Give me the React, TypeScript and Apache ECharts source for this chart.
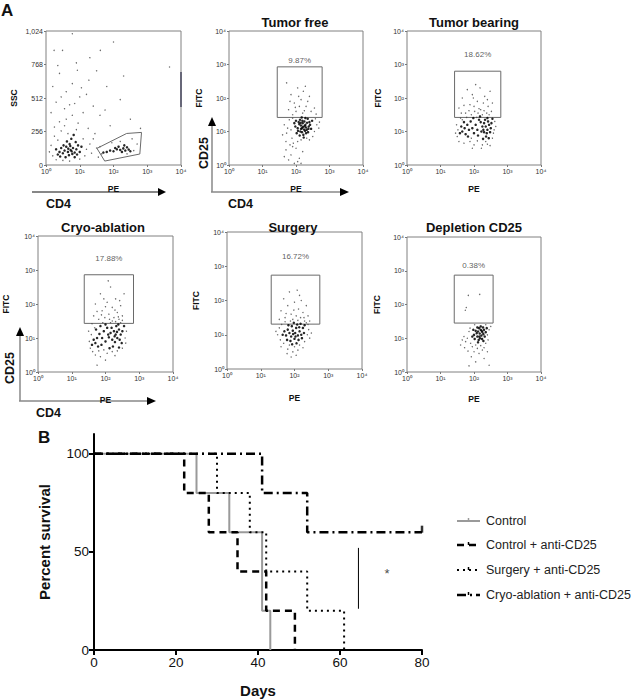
import React, { useEffect, useRef } from "react";
import * as echarts from "echarts";

const FONT = '"Liberation Sans", Arial, sans-serif';
const SUP = ["⁰", "¹", "²", "³", "⁴"];

// ---------- Panel A data (x = log10 PE, y = log10 FITC or linear SSC) ----------
const gateCD4Core = [[0.73,114],[0.65,100],[0.8,130],[0.6,140],[0.85,95],[0.7,160],[0.55,110],[0.78,85],[0.9,120],[0.5,90],[0.68,75],[0.62,180],[0.95,150],[0.45,130],[0.75,200],[0.58,60],[0.88,175],[0.4,100],[1.0,100],[0.82,230],[0.35,80],[0.66,125],[0.72,145],[0.76,105],[0.52,150],[0.92,80],[0.42,65],[1.05,140],[0.3,120],[0.85,60],[2.29,127],[2.2,115],[2.35,110],[2.1,120],[2.4,135],[2.0,105],[2.25,100],[1.9,110],[2.45,118],[2.15,140],[1.8,100],[2.32,150],[2.5,105],[1.7,95],[2.05,130]];
const gateCD4Spread = [[0.2,70],[0.15,150],[0.25,220],[0.3,40],[0.45,260],[0.55,300],[0.65,240],[0.9,270],[1.1,200],[1.2,120],[1.15,70],[1.3,160],[0.35,190],[0.5,35],[1.0,45],[0.1,100],[1.35,90],[1.4,200],[0.95,320],[0.6,350],[0.78,380],[0.4,330],[1.25,280],[0.25,290],[1.5,130],[1.55,60],[1.45,240],[0.7,30],[1.6,140],[1.65,85],[2.6,110],[2.7,160],[2.55,200],[2.2,180],[1.95,170],[2.4,85],[0.78,1003],[2.0,940],[0.24,876],[0.49,876],[1.61,876],[0.93,724],[3.66,749],[1.27,648],[0.78,622],[0.4,700],[0.6,560],[1.0,520],[1.4,450],[0.3,480],[1.8,600],[0.55,430],[1.1,400],[2.2,500],[1.6,380],[0.2,600],[0.9,780],[1.3,820],[2.5,350],[0.45,520],[1.9,300],[1.05,590],[0.7,460],[2.8,280],[0.15,400],[1.75,420],[0.35,760],[2.3,680],[1.5,720],[1.2,540],[0.85,470]];
const gateCD4Polygon = [[1.51,127],[1.74,30],[2.78,84],[2.83,249],[2.39,241],[1.51,127]];

const tumorFreeCore = [[2.21,1.14],[2.15,1.08],[2.28,1.2],[2.1,1.22],[2.32,1.05],[2.18,0.98],[2.25,1.3],[2.05,1.1],[2.38,1.15],[2.12,1.35],[2.3,0.95],[2.2,1.25],[2.02,0.95],[2.4,1.28],[2.27,1.02],[2.15,1.18],[2.35,1.38],[2.08,1.28],[2.22,0.9],[2.45,1.08],[1.98,1.15],[2.17,1.42],[2.3,1.12],[2.24,1.06],[2.13,1.0],[2.36,0.98],[2.19,1.32],[2.42,1.2],[2.06,1.02],[2.28,1.4],[1.95,1.25],[2.33,1.26],[2.11,0.88],[2.26,1.16],[2.18,1.1],[2.48,1.32],[2.0,1.32],[2.23,0.82],[2.37,1.08],[2.14,1.26]];
const tumorFreeSpread = [[1.72,2.45],[1.85,2.1],[2.05,2.3],[2.22,2.2],[2.4,2.05],[1.95,1.85],[2.15,1.95],[2.3,1.75],[1.78,1.65],[2.0,1.6],[2.2,1.55],[2.45,1.6],[2.1,1.75],[1.9,1.5],[2.35,1.9],[2.55,1.7],[2.08,2.05],[1.82,1.9],[2.28,2.35],[2.6,1.52],[2.25,1.62],[1.98,1.72],[1.65,1.2],[1.72,0.95],[1.8,1.35],[1.88,0.8],[1.75,1.1],[1.7,0.7],[1.92,0.65],[2.55,1.0],[2.62,1.2],[2.5,0.85],[2.68,1.1],[2.05,0.7],[2.4,0.75],[1.85,1.05],[1.6,0.9],[2.58,1.38],[2.7,1.28],[1.9,1.4],[2.15,0.75],[2.32,0.8],[1.7,0.45],[1.85,0.3],[2.0,0.5],[2.1,0.2],[1.78,0.15],[1.95,0.05],[2.2,0.4],[1.9,0.55],[1.65,0.25],[2.05,0.1],[1.82,0.6],[2.15,0.05]];

const tumorBearingCore = [[2.35,1.15],[2.4,1.05],[2.3,1.25],[2.45,1.2],[2.38,0.95],[2.28,1.05],[2.5,1.1],[2.33,1.35],[2.42,1.3],[2.25,1.15],[2.36,0.85],[2.48,0.98],[2.2,1.28],[2.4,1.4],[2.3,0.98],[2.52,1.25],[2.22,1.0],[1.72,1.1],[1.65,1.0],[1.8,1.2],[1.75,0.92],[1.85,1.05],[1.62,1.15],[1.9,1.3],[1.7,1.28],[1.95,1.1],[2.05,1.2],[2.1,1.05],[2.0,0.95],[2.15,1.35],[2.12,0.88],[1.82,0.85],[2.44,0.8],[2.27,0.78],[1.58,0.95],[2.55,1.38],[2.18,1.45],[1.98,1.4]];
const tumorBearingSpread = [[1.5,0.85],[1.48,1.2],[1.55,0.7],[1.6,1.4],[1.7,0.65],[1.88,0.7],[2.0,0.6],[2.1,0.72],[2.25,0.6],[2.4,0.62],[2.55,0.8],[2.6,1.05],[2.62,1.3],[2.58,0.95],[1.52,1.05],[1.65,1.35],[1.92,0.8],[2.08,1.42],[2.35,0.7],[2.48,0.58],[1.78,1.42],[2.65,1.15],[1.45,0.95],[2.22,0.5],[1.95,0.5],[1.55,1.7],[1.65,2.0],[1.75,1.55],[1.8,2.25],[1.88,1.8],[1.95,2.1],[2.02,1.6],[2.1,1.9],[2.18,2.3],[2.2,1.65],[2.28,1.85],[2.32,2.05],[2.38,1.55],[2.42,1.75],[2.48,2.2],[2.52,1.6],[1.62,1.55],[1.7,1.78],[1.92,1.5],[2.05,2.4],[2.12,1.55],[2.25,1.5],[2.4,1.95],[2.55,1.85],[1.85,1.62],[2.0,1.75],[2.15,1.68],[2.3,1.62],[1.98,2.0],[2.45,1.5]];

const cryoCore = [[2.3,1.1],[2.25,1.2],[2.35,1.0],[2.4,1.25],[2.2,0.95],[2.32,1.35],[2.45,1.1],[2.28,0.88],[2.15,1.15],[2.38,1.4],[2.42,0.95],[2.18,1.3],[2.5,1.2],[2.1,1.02],[2.27,1.05],[2.34,1.18],[1.75,1.0],[1.7,0.85],[1.82,1.12],[1.65,0.95],[1.9,1.0],[1.78,0.75],[1.95,1.2],[2.0,0.9],[2.05,1.3],[1.88,0.8],[1.6,0.8],[2.08,1.1],[1.85,1.35],[2.22,0.75],[2.48,0.85],[2.0,1.4],[1.72,1.25],[2.55,1.35],[2.12,0.7],[2.4,0.72]];
const cryoSpread = [[1.52,0.9],[1.55,0.7],[1.58,1.1],[1.62,0.6],[1.68,1.3],[1.8,0.62],[1.95,0.65],[2.05,0.55],[2.2,0.6],[2.35,0.62],[2.5,0.7],[2.58,1.0],[2.62,1.2],[2.6,0.85],[1.5,1.2],[1.92,1.45],[2.15,1.45],[2.3,1.48],[2.45,1.45],[1.7,0.5],[1.85,0.45],[2.0,0.35],[1.75,0.2],[2.28,0.48],[1.6,1.42],[1.65,1.65],[1.7,2.0],[1.8,1.55],[1.85,2.3],[1.9,1.8],[1.98,1.6],[2.05,2.05],[2.1,1.7],[2.15,2.5],[2.2,1.9],[2.25,1.6],[2.3,2.15],[2.35,1.75],[2.4,1.55],[2.45,1.95],[2.5,1.65],[2.55,2.3],[2.2,1.5],[1.75,1.78],[2.0,1.92],[2.38,1.62],[2.12,1.55],[1.95,2.15],[2.28,1.82],[2.42,2.1],[2.08,2.68],[1.88,1.68],[2.5,1.52]];

const surgeryCore = [[2.02,1.05],[1.95,1.12],[2.1,0.98],[2.05,1.2],[1.9,0.95],[2.15,1.1],[1.85,1.05],[2.0,0.88],[2.08,1.3],[1.92,1.25],[2.2,1.0],[1.8,1.15],[2.12,0.85],[1.98,1.35],[2.25,1.2],[1.75,0.98],[2.18,1.32],[1.88,0.82],[2.03,0.95],[2.28,1.05],[1.7,1.1],[1.96,1.02],[2.14,1.22],[1.82,1.28],[2.06,0.75],[2.22,0.9],[1.78,0.85],[2.3,1.28],[1.65,1.0],[1.93,0.72]];
const surgerySpread = [[1.5,1.0],[1.55,1.2],[1.58,0.85],[1.62,1.3],[1.68,0.75],[1.72,1.38],[1.85,0.7],[2.0,0.65],[2.15,0.7],[2.3,0.8],[2.38,1.0],[2.42,1.15],[2.45,0.9],[2.35,1.35],[1.45,1.1],[1.6,0.65],[2.25,0.62],[1.8,0.58],[2.1,0.55],[1.95,0.5],[2.05,0.4],[1.78,0.45],[2.4,1.3],[2.5,1.05],[1.9,0.35],[1.55,1.45],[1.6,1.7],[1.68,2.05],[1.72,1.5],[1.8,1.85],[1.85,2.25],[1.9,1.6],[1.95,1.45],[2.0,1.95],[2.05,1.55],[2.08,2.3],[2.12,1.75],[2.18,1.5],[2.2,2.0],[2.25,1.65],[2.3,1.4],[2.35,1.85],[2.4,1.55],[1.98,1.72],[2.1,1.42],[1.75,1.62],[2.15,2.15],[2.28,1.5],[1.88,1.4],[2.45,1.4]];

const depletionCore = [[2.17,1.14],[2.12,1.2],[2.22,1.08],[2.2,1.25],[2.1,1.05],[2.25,1.18],[2.15,1.3],[2.28,1.12],[2.08,1.15],[2.18,1.0],[2.3,1.25],[2.05,1.22],[2.24,0.98],[2.14,0.95],[2.32,1.05],[2.0,1.1],[2.2,1.35],[2.1,1.32],[2.27,1.32],[2.35,1.18],[2.02,0.98],[2.16,1.05],[2.23,1.22],[1.95,1.05],[2.38,1.3],[2.12,0.88],[2.28,0.92],[1.98,1.25]];
const depletionSpread = [[1.8,1.0],[1.75,0.9],[1.85,1.2],[1.7,1.05],[1.9,0.85],[1.88,1.3],[1.95,0.75],[2.05,0.8],[2.4,1.1],[2.45,1.25],[2.42,0.95],[2.5,1.35],[2.35,0.85],[2.2,0.78],[2.3,0.72],[2.1,0.7],[1.65,0.95],[1.6,0.8],[1.72,0.72],[1.82,0.62],[2.0,0.6],[2.15,0.55],[2.25,0.65],[2.4,0.6],[1.92,0.45],[2.05,0.3],[2.3,0.4],[2.45,0.2],[1.85,0.18],[2.02,1.4],[2.35,1.4],[1.83,2.27],[2.17,2.3],[1.77,1.91],[1.74,1.83]];

const panelTitles = ["Tumor free", "Tumor bearing", "Cryo-ablation", "Surgery", "Depletion CD25"];
const gatePercents = ["9.87%", "18.62%", "17.88%", "16.72%", "0.38%"];
const gateBoxes = [
  [1.44, 1.42, 2.78, 2.93],
  [1.42, 1.42, 2.8, 2.8],
  [1.37, 1.43, 2.83, 2.86],
  [1.31, 1.31, 2.75, 2.74],
  [1.41, 1.45, 2.57, 2.87],
];
const percentPos = [[2.11, 3.13], [2.11, 3.3], [2.1, 3.34], [2.03, 3.28], [1.99, 3.16]];

// ---------- Panel B data ----------
const survivalTicks = [0, 50, 100];
const seriesNames = ["Control", "Control + anti-CD25", "Surgery + anti-CD25", "Cryo-ablation + anti-CD25"];
const controlSurv = [[0, 100], [25, 80], [33, 60], [41, 20], [43, 0]];
const controlAntiSurv = [[0, 100], [22, 80], [28, 60], [35, 40], [42, 20], [49, 0]];
const surgeryAntiSurv = [[0, 100], [30, 80], [38, 60], [42, 40], [52, 20], [61, 0]];
const cryoAntiSurv = [[0, 100], [41, 80], [52, 60], [80, 60]];
const censored = [[80, 60]];
const sigBar = [[64.5, 52], [64.5, 21]];
const sigMark = [[71.5, 39]];

export default function App() {
  const ref = useRef<HTMLDivElement>(null);
  useEffect(() => {
    if (!ref.current) return;
    const chart = echarts.init(ref.current, null, { renderer: "svg" });

    const scatterGrids = [
      { left: 46, top: 31, width: 135, height: 134 },
      { left: 229, top: 31, width: 134, height: 134 },
      { left: 407, top: 31, width: 134, height: 134 },
      { left: 38, top: 236, width: 135, height: 136 },
      { left: 227, top: 232, width: 135, height: 137 },
      { left: 407, top: 237, width: 134, height: 135 },
    ];
    const grids: any[] = scatterGrids.map((g) => ({ ...g, show: true, borderColor: "#808080", borderWidth: 1, backgroundColor: "transparent" }));
    grids.push({ left: 94, top: 434, width: 328, height: 218 });

    const peGaps = [19, 19, 19, 23, 24, 22];
    const yGaps = [28, 26, 25, 28, 27, 26];
    const labelStyle = { fontSize: 7, color: "#333", fontFamily: FONT, margin: 3 };
    const nameStyle = { fontWeight: "bold", fontSize: 8.5, color: "#111", fontFamily: FONT };

    const xAxes: any[] = scatterGrids.map((_, i) => ({
      gridIndex: i, type: "value", min: 0, max: 4, interval: 1,
      axisLabel: { ...labelStyle, formatter: (v: number) => "10" + SUP[v] },
      axisTick: { show: true, length: 2, lineStyle: { color: "#777" } },
      axisLine: { show: false }, splitLine: { show: false },
      name: "PE", nameLocation: "middle", nameGap: peGaps[i], nameTextStyle: nameStyle,
    }));
    const yAxes: any[] = scatterGrids.map((_, i) =>
      i === 0
        ? {
            gridIndex: 0, type: "value", min: 0, max: 1024, interval: 256,
            axisLabel: { ...labelStyle, formatter: (v: number) => (v === 1024 ? "1,024" : String(v)) },
            axisTick: { show: true, length: 2, lineStyle: { color: "#777" } },
            axisLine: { show: false }, splitLine: { show: false },
            name: "SSC", nameLocation: "middle", nameGap: yGaps[0], nameTextStyle: nameStyle,
          }
        : {
            gridIndex: i, type: "value", min: 0, max: 4, interval: 1,
            axisLabel: { ...labelStyle, formatter: (v: number) => "10" + SUP[v] },
            axisTick: { show: true, length: 2, lineStyle: { color: "#777" } },
            axisLine: { show: false }, splitLine: { show: false },
            name: "FITC", nameLocation: "middle", nameGap: yGaps[i], nameTextStyle: nameStyle,
          }
    );

    xAxes.push({
      gridIndex: 6, type: "value", min: 0, max: 80, interval: 20,
      axisLine: { lineStyle: { color: "#000", width: 2 } },
      axisTick: { show: true, length: 5, lineStyle: { color: "#000", width: 2 } },
      axisLabel: { fontSize: 13.5, color: "#111", fontFamily: FONT, margin: 5 },
      splitLine: { show: false },
      name: "Days", nameLocation: "middle", nameGap: 33,
      nameTextStyle: { fontSize: 15, fontWeight: "bold", color: "#111", fontFamily: FONT },
    });
    yAxes.push({
      gridIndex: 6, type: "value", min: 0, max: 110, interval: 50,
      axisLine: { show: true, lineStyle: { color: "#000", width: 2 } },
      axisTick: { show: true, length: 5, lineStyle: { color: "#000", width: 2 }, customValues: survivalTicks },
      axisLabel: { fontSize: 13.5, color: "#111", fontFamily: FONT, margin: 5, customValues: survivalTicks,
        formatter: (v: number) => (survivalTicks.includes(v) ? String(v) : "") },
      splitLine: { show: false },
      name: "Percent survival", nameLocation: "middle", nameGap: 42,
      nameTextStyle: { fontSize: 15, fontWeight: "bold", color: "#111", fontFamily: FONT },
    });

    const cores = [gateCD4Core, tumorFreeCore, tumorBearingCore, cryoCore, surgeryCore, depletionCore];
    const spreads = [gateCD4Spread, tumorFreeSpread, tumorBearingSpread, cryoSpread, surgerySpread, depletionSpread];
    const series: any[] = [];
    cores.forEach((core, i) => {
      series.push({
        type: "scatter", xAxisIndex: i, yAxisIndex: i, data: spreads[i], symbolSize: 1.4,
        itemStyle: { color: "#444", opacity: 0.8 }, silent: true,
      });
      const s: any = {
        type: "scatter", xAxisIndex: i, yAxisIndex: i, data: core, symbolSize: 2.5,
        itemStyle: { color: "#000", opacity: 0.85 }, silent: true,
      };
      if (i > 0) {
        const b = gateBoxes[i - 1];
        s.markArea = {
          silent: true,
          itemStyle: { color: "rgba(0,0,0,0)", borderColor: "#6a6a6a", borderWidth: 1 },
          data: [[{ coord: [b[0], b[1]] }, { coord: [b[2], b[3]] }]],
        };
      }
      series.push(s);
      if (i > 0) {
        series.push({
          type: "scatter", xAxisIndex: i, yAxisIndex: i, symbolSize: 0, silent: true,
          data: [{ value: percentPos[i - 1], name: gatePercents[i - 1] }],
          label: { show: true, position: "inside", formatter: "{b}", fontSize: 8, color: "#333", fontFamily: FONT },
        });
      }
    });
    series.push({
      type: "line", xAxisIndex: 0, yAxisIndex: 0, data: gateCD4Polygon, symbol: "none", silent: true,
      lineStyle: { color: "#6a6a6a", width: 1 },
    });

    const survData = [controlSurv, controlAntiSurv, surgeryAntiSurv, cryoAntiSurv];
    const survStyles: any[] = [
      { color: "#9a9a9a", width: 2, type: "solid" },
      { color: "#000", width: 2.5, type: [7, 5] },
      { color: "#000", width: 2, type: [2, 4] },
      { color: "#000", width: 2.5, type: [9, 4, 2, 4] },
    ];
    survData.forEach((d, i) => {
      series.push({
        type: "line", name: seriesNames[i], xAxisIndex: 6, yAxisIndex: 6, data: d, step: "end",
        symbol: "none", lineStyle: survStyles[i], itemStyle: { color: survStyles[i].color }, silent: true,
      });
    });
    series.push({
      type: "scatter", xAxisIndex: 6, yAxisIndex: 6, data: censored, symbol: "rect", symbolSize: [2.5, 7],
      symbolOffset: [0, -3], itemStyle: { color: "#000" }, silent: true,
    });
    series.push({
      type: "line", xAxisIndex: 6, yAxisIndex: 6, data: sigBar, symbol: "none", silent: true,
      lineStyle: { color: "#000", width: 1 },
    });
    series.push({
      type: "scatter", xAxisIndex: 6, yAxisIndex: 6, data: sigMark, symbolSize: 0, silent: true,
      label: { show: true, position: "inside", formatter: "*", fontSize: 13, color: "#111", fontFamily: FONT },
    });

    const titlePos = [[295, 22], [474, 22], [103, 227], [293, 227], [474, 227]];
    const txt = (x: number, y: number, text: string, size: number, extra: any = {}) => ({
      type: "text", x, y, silent: true, ...extra,
      style: { text, fontSize: size, fontWeight: "bold", fontFamily: FONT, fill: "#111", textAlign: "left", textVerticalAlign: "middle", ...(extra.style || {}) },
    });

    const legendY = [521, 545, 570, 595];
    const legendGraphic: any[] = [];
    seriesNames.forEach((n, i) => {
      const st = survStyles[i];
      legendGraphic.push({
        type: "line", silent: true, shape: { x1: 457, y1: legendY[i], x2: 480, y2: legendY[i] },
        style: { stroke: st.color, lineWidth: st.width, lineDash: Array.isArray(st.type) ? st.type : null },
      });
      legendGraphic.push({
        type: "line", silent: true, shape: { x1: 468.5, y1: legendY[i] - 3, x2: 468.5, y2: legendY[i] },
        style: { stroke: st.color, lineWidth: 1.5 },
      });
      legendGraphic.push({
        type: "text", silent: true, x: 486, y: legendY[i],
        style: { text: n, fontSize: 12.5, fontFamily: FONT, fill: "#222", textAlign: "left", textVerticalAlign: "middle" },
      });
    });

    const graphic: any[] = [
      txt(1, 10, "A", 17),
      txt(38, 437, "B", 17),
      ...panelTitles.map((t, i) => txt(titlePos[i][0], titlePos[i][1], t, 13, { style: { textAlign: "center" } })),
      txt(46, 204, "CD4", 12.5),
      txt(228, 204, "CD4", 12.5),
      txt(36, 413, "CD4", 12.5),
      txt(204, 153, "CD25", 12.5, { rotation: Math.PI / 2, style: { textAlign: "center" } }),
      txt(10, 368, "CD25", 12.5, { rotation: Math.PI / 2, style: { textAlign: "center" } }),
      { type: "line", silent: true, shape: { x1: 32, y1: 192, x2: 160, y2: 192 }, style: { stroke: "#111", lineWidth: 1.2 } },
      { type: "polygon", silent: true, shape: { points: [[166, 192], [158, 188], [158, 196]] }, style: { fill: "#000" } },
      { type: "line", silent: true, shape: { x1: 212, y1: 192, x2: 212, y2: 124 }, style: { stroke: "#888", lineWidth: 1.5 } },
      { type: "polygon", silent: true, shape: { points: [[212, 117], [208, 126], [216, 126]] }, style: { fill: "#000" } },
      { type: "line", silent: true, shape: { x1: 211, y1: 192, x2: 342, y2: 192 }, style: { stroke: "#888", lineWidth: 1.5 } },
      { type: "polygon", silent: true, shape: { points: [[349, 192], [340, 188], [340, 196]] }, style: { fill: "#000" } },
      { type: "line", silent: true, shape: { x1: 20, y1: 401, x2: 20, y2: 334 }, style: { stroke: "#888", lineWidth: 1.5 } },
      { type: "polygon", silent: true, shape: { points: [[20, 327], [16, 336], [24, 336]] }, style: { fill: "#000" } },
      { type: "line", silent: true, shape: { x1: 19, y1: 401, x2: 149, y2: 401 }, style: { stroke: "#888", lineWidth: 1.5 } },
      { type: "polygon", silent: true, shape: { points: [[156, 401], [147, 397], [147, 405]] }, style: { fill: "#000" } },
      { type: "line", silent: true, shape: { x1: 181, y1: 72, x2: 181, y2: 107 }, style: { stroke: "#4a4a60", lineWidth: 1.5 } },
      ...legendGraphic,
    ];

    chart.setOption({
      animation: false,
      backgroundColor: "#fff",
      textStyle: { fontFamily: FONT },
      grid: grids,
      xAxis: xAxes,
      yAxis: yAxes,
      series,
      graphic,
    });
    return () => chart.dispose();
  }, []);
  return <div ref={ref} style={{ position: "fixed", left: 0, top: 0, width: 640, height: 699, background: "#fff" }} />;
}
